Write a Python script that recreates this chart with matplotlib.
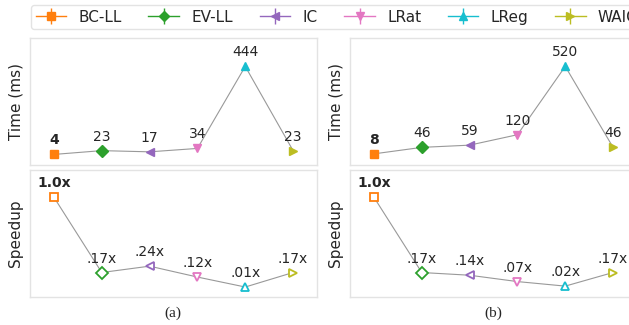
import matplotlib
matplotlib.use('Agg')
import matplotlib.pyplot as plt
from matplotlib.lines import Line2D

# Data
methods = ['BC-LL', 'EV-LL', 'IC', 'LRat', 'LReg', 'WAIC']
colors = ['#ff7f0e', '#2ca02c', '#9467bd', '#e377c2', '#17becf', '#bcbd22']
markers = ['s', 'D', '<', 'v', '^', '>']

time_a = [4, 23, 17, 34, 444, 23]
speedup_a = [1.0, 0.17, 0.24, 0.12, 0.01, 0.17]
time_b = [8, 46, 59, 120, 520, 46]
speedup_b = [1.0, 0.17, 0.14, 0.07, 0.02, 0.17]

time_labels_a = ['4', '23', '17', '34', '444', '23']
speed_labels_a = ['1.0x', '.17x', '.24x', '.12x', '.01x', '.17x']
time_labels_b = ['8', '46', '59', '120', '520', '46']
speed_labels_b = ['1.0x', '.17x', '.14x', '.07x', '.02x', '.17x']

plt.rcParams['font.family'] = 'DejaVu Sans'
plt.rcParams['text.color'] = '#262626'
plt.rcParams['axes.labelcolor'] = '#262626'

fig = plt.figure(figsize=(6.29, 3.25), dpi=100)

W, H = 629, 325
def add_ax(x0, y0, w, h):
    return fig.add_axes([x0 / W, 1 - (y0 + h) / H, w / W, h / H])

def style(ax):
    for s in ax.spines.values():
        s.set_color('#e3e3e3')
        s.set_linewidth(1.0)
    ax.set_xticks([])
    ax.set_yticks([])
    ax.set_xlim(-0.5, 5.5)

def draw(ax, vals, labels, filled):
    xs = list(range(len(vals)))
    ax.plot(xs, vals, color='#999999', lw=0.8, zorder=1)
    for i, v in enumerate(vals):
        ms = 6.0 if markers[i] == 'D' else 5.5
        if filled:
            ax.plot(i, v, marker=markers[i], color=colors[i], ms=ms,
                    ls='none', zorder=2)
        else:
            ax.plot(i, v, marker=markers[i], mec=colors[i], mfc='white',
                    mew=1.3, ms=ms, ls='none', zorder=2)
        ax.annotate(labels[i], (i, v), xytext=(0, 5), textcoords='offset points',
                    ha='center', va='bottom', fontsize=10,
                    fontweight='bold' if i == 0 else 'normal')

panels = [(30, time_a, speedup_a, time_labels_a, speed_labels_a, '(a)'),
          (350, time_b, speedup_b, time_labels_b, speed_labels_b, '(b)')]

for x0, t, s, tl, sl, cap in panels:
    ax1 = add_ax(x0, 38, 287, 127)
    style(ax1)
    draw(ax1, t, tl, True)
    ax1.set_ylim(-0.11 * max(t), 1.32 * max(t))
    ax1.set_ylabel('Time (ms)', fontsize=11, labelpad=5)

    ax2 = add_ax(x0, 170, 287, 127)
    style(ax2)
    draw(ax2, s, sl, False)
    ax2.set_ylim(-0.1, 1.3)
    ax2.set_ylabel('Speedup', fontsize=11, labelpad=5)

    fig.text((x0 + 143) / W, 1 - 313 / H, cap, ha='center', va='center',
             fontsize=11, family='Liberation Serif')

handles = []
for c, m in zip(colors, markers):
    handles.append((Line2D([], [], color=c, lw=1, marker='|', ms=11, mew=1),
                    Line2D([], [], color=c, marker=m, ms=5.5, ls='none')))

fig.legend(handles, methods, loc='upper left', bbox_to_anchor=(31 / W, 1 - 5 / H),
           ncol=6, fontsize=11, handlelength=2.0, handletextpad=0.8,
           columnspacing=1.75, frameon=True, edgecolor='#dddddd',
           borderpad=0.3, borderaxespad=0)

fig.savefig('out.png', dpi=100)
